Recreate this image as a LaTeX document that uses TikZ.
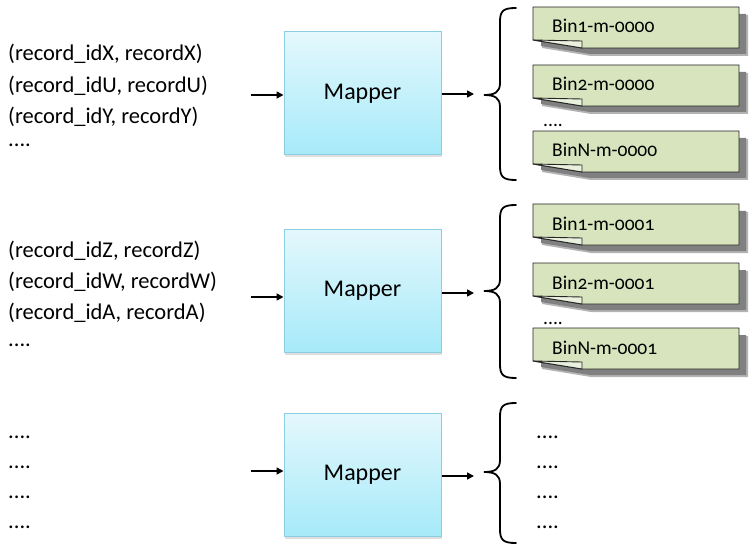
\documentclass[tikz,border=0pt]{standalone}
\usepackage{fontspec}
\setmainfont{Carlito}[Numbers=OldStyle]
\usetikzlibrary{arrows.meta,shadows,calc}
\definecolor{mapTop}{RGB}{228,248,253}
\definecolor{mapBot}{RGB}{166,234,249}
\definecolor{mapLine}{RGB}{140,205,225}
\definecolor{binFill}{RGB}{215,228,189}
\definecolor{binFold}{RGB}{234,240,222}
\definecolor{binShade}{RGB}{128,128,128}

% one output file: name, left, top, label
\newcommand{\binnote}[4]{%
  \coordinate (#1) at (#2,#3);
  \fill[binShade!60] ($(#1)+(9,8)$) -- ++(206,0) -- ++(0,41) -- ++(-157,0) -- ++(-49,-8) -- cycle;
  \fill[binShade] ($(#1)+(8,7)$) -- ++(205,0) -- ++(0,40) -- ++(-156,0) -- ++(-49,-8) -- cycle;
  \draw[binline,fill=binFill] (#1) -- ++(206,0) -- ++(0,41) -- ++(-157,0) -- ++(-49,-8) -- cycle;
  \draw[binline,fill=binFold] ($(#1)+(0,33)$) -- ++(49,1) -- ++(0,7) -- cycle;
  \node[bintext] (#1t) at ($(#1)+(19,26)$) {#4};
}

\begin{document}
\begin{tikzpicture}[x=1pt,y=-1pt,
    rec/.style={anchor=base west,inner sep=0pt,font=\fontsize{22.5}{27}\selectfont},
    bintext/.style={anchor=base west,inner sep=0pt,font=\fontsize{19.5}{23}\selectfont},
    mapper/.style={draw=mapLine,line width=1pt,top color=mapTop,bottom color=mapBot,
      minimum width=157pt,minimum height=123pt,inner sep=0pt,
      font=\fontsize{24}{28}\selectfont,
      drop shadow={shadow xshift=1pt,shadow yshift=-2.5pt,opacity=0.25}},
    binline/.style={draw=black!85,line width=0.9pt,line join=miter},
    arr/.style={line width=1.6pt,-{Triangle[length=7pt,width=7pt]}},
    brace/.style={line width=1.8pt,line cap=round}]
\useasboundingbox (0,0) rectangle (752,548);

% inputs
\node[rec] (r1a) at (8,61) {(record\_idX, recordX)};
\node[rec] (r1b) at (8,93) {(record\_idU, recordU)};
\node[rec] (r1c) at (8,124) {(record\_idY, recordY)};
\node[rec] (r1d) at (8,147) {....};
\node[rec] (r2a) at (8,257) {(record\_idZ, recordZ)};
\node[rec] (r2b) at (8,288) {(record\_idW, recordW)};
\node[rec] (r2c) at (8,319) {(record\_idA, recordA)};
\node[rec] (r2d) at (8,346) {....};
\node[rec] (r3a) at (8,438) {....};
\node[rec] (r3b) at (8,468) {....};
\node[rec] (r3c) at (8,498) {....};
\node[rec] (r3d) at (8,528) {....};

% mappers
\node[mapper] (map1) at (362.5,93.5) {Mapper};
\node[mapper] (map2) at (362.5,291) {Mapper};
\node[mapper] (map3) at (362.5,475) {Mapper};

\coordinate (in1) at (251,95);
\coordinate (in2) at (251,297);
\coordinate (in3) at (251,471);
\coordinate (out1) at (474,94);
\coordinate (out2) at (474,293);
\coordinate (out3) at (474,476);
\draw[arr] (in1) -- (map1.west |- in1);
\draw[arr] (in2) -- (map2.west |- in2);
\draw[arr] (in3) -- (map3.west |- in3);
\draw[arr] (map1.east |- out1) -- (out1);
\draw[arr] (map2.east |- out2) -- (out2);
\draw[arr] (map3.east |- out3) -- (out3);

% braces
\foreach \ya/\yt/\yb in {8/95/180, 205/291/378, 403/472/543}
  \draw[brace] (516,\ya) .. controls (503,\ya) and (500,\ya+3) .. (500,\ya+14)
    -- (500,\yt-12) .. controls (500,\yt-3) and (495,\yt) .. (484,\yt)
    .. controls (495,\yt) and (500,\yt+3) .. (500,\yt+12)
    -- (500,\yb-14) .. controls (500,\yb-3) and (503,\yb) .. (516,\yb);

% outputs
\binnote{b1a}{533}{7}{Bin1-m-0000}
\binnote{b1b}{533}{65}{Bin2-m-0000}
\binnote{b1n}{533}{131}{BinN-m-0000}
\node[bintext] (d1) at (543,127) {....};
\binnote{b2a}{533}{204}{Bin1-m-0001}
\binnote{b2b}{533}{263}{Bin2-m-0001}
\binnote{b2n}{533}{328}{BinN-m-0001}
\node[bintext] (d2) at (543,324) {....};
\node[rec] (d3a) at (536,438) {....};
\node[rec] (d3b) at (536,468) {....};
\node[rec] (d3c) at (536,498) {....};
\node[rec] (d3d) at (536,528) {....};
\end{tikzpicture}
\end{document}
